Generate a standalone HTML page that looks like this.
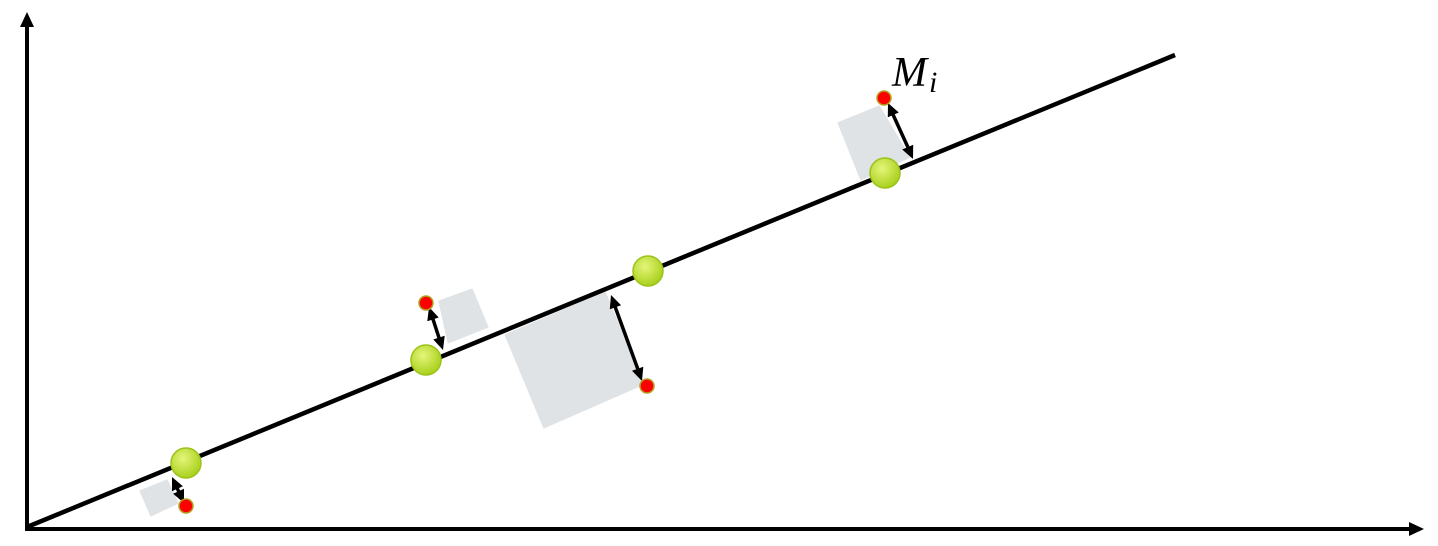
<!DOCTYPE html>
<html><head><style>body{margin:0;background:#fff}svg{display:block}</style></head><body>
<svg width="1438" height="546" viewBox="0 0 1438 546" xmlns="http://www.w3.org/2000/svg">
<defs>
<radialGradient id="g" cx="40%" cy="35%" r="65%"><stop offset="0" stop-color="#e4f57a"/><stop offset="1" stop-color="#a9d11c"/></radialGradient>
</defs>
<g fill="#dfe3e6" stroke="#fff" stroke-width="2">
<polygon points="138,490 168,478 180,504 150,518"/>
<polygon points="437,300 473,287 490,328 447,345"/>
<polygon points="503,334 606,290 646,385 543,430"/>
<polygon points="836,122 880,104 912,158 860,182"/>
</g>
<line x1="27" y1="529" x2="27" y2="20" stroke="#000" stroke-width="4"/>
<line x1="25" y1="529" x2="1414" y2="529" stroke="#000" stroke-width="4"/>
<polygon points="27,12 20,27 34,27" fill="#000"/>
<polygon points="1424,529 1409,522 1409,536" fill="#000"/>
<line x1="27" y1="527" x2="1175" y2="55" stroke="#000" stroke-width="4.5"/>
<g stroke="#000" stroke-width="3.5">
<line x1="174" y1="482" x2="182" y2="498"/>
<line x1="431" y1="313" x2="441" y2="344"/>
<line x1="613" y1="301" x2="640" y2="375"/>
<line x1="890" y1="108" x2="911" y2="154"/>
</g>
<g fill="#000">
<polygon points="184,503 173.1,493.7 184,488.7"/><polygon points="172,477 172,491.3 182.9,486.3"/>
<polygon points="443,350 433.3,339.5 444.7,335.7"/><polygon points="429,307 427.3,321.3 438.7,317.5"/>
<polygon points="642,381 632,370.8 643.3,366.8"/><polygon points="611,295 609.8,309.2 621.1,305.2"/>
<polygon points="913,159 902.2,149.5 913.2,144.7"/><polygon points="888,103 887.8,117.3 898.8,112.5"/>
</g>
<g fill="url(#g)" stroke="#9cc21a" stroke-width="1.5">
<circle cx="186" cy="463" r="15"/>
<circle cx="426" cy="360" r="15"/>
<circle cx="648" cy="271" r="15"/>
<circle cx="885" cy="173" r="15"/>
</g>
<g fill="#f00" stroke="#b5a020" stroke-width="1.5">
<circle cx="186" cy="506" r="7"/>
<circle cx="426" cy="303" r="7"/>
<circle cx="647" cy="386" r="7"/>
<circle cx="884" cy="98" r="7"/>
</g>
<text x="892" y="86" font-family="Liberation Serif, serif" font-style="italic" font-size="42">M<tspan font-size="30" dx="2" dy="6">i</tspan></text>
</svg>
</body></html>
